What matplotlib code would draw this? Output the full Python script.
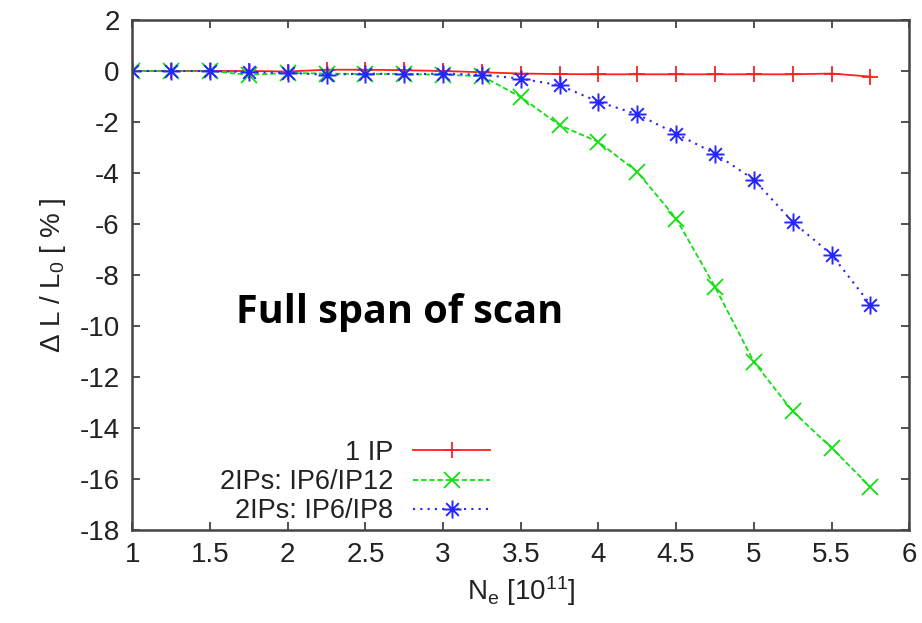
import numpy as np
import matplotlib
matplotlib.use("Agg")
import matplotlib.pyplot as plt
from matplotlib.path import Path

plt.rcParams['font.family'] = ['Liberation Sans', 'DejaVu Sans']
plt.rcParams['mathtext.default'] = 'regular'
plt.rcParams['axes.unicode_minus'] = False

# N_e [10^11]
ne = [1.0, 1.25, 1.5, 1.75, 2.0, 2.25, 2.5, 2.75, 3.0, 3.25,
      3.5, 3.75, 4.0, 4.25, 4.5, 4.75, 5.0, 5.25, 5.5, 5.75]
# Delta L / L0 [%]
one_ip = [0.0, 0.0, 0.0, 0.0, -0.02, 0.05, 0.05, 0.03, 0.0, -0.05,
          -0.1, -0.12, -0.13, -0.13, -0.13, -0.13, -0.13, -0.13, -0.1, -0.22]
ip6_ip12 = [0.0, 0.0, 0.0, -0.15, -0.08, -0.1, -0.12, -0.12, -0.15, -0.2,
            -1.02, -2.13, -2.78, -3.96, -5.79, -8.47, -11.41, -13.35, -14.78, -16.31]
ip6_ip8 = [0.0, 0.0, 0.0, -0.04, -0.07, -0.15, -0.1, -0.13, -0.1, -0.15,
           -0.3, -0.56, -1.21, -1.7, -2.46, -3.24, -4.26, -5.92, -7.2, -9.16]

labels = ["1 IP", "2IPs: IP6/IP12", "2IPs: IP6/IP8"]
xticks = [1, 1.5, 2, 2.5, 3, 3.5, 4, 4.5, 5, 5.5, 6]
yticks = list(range(-18, 3, 2))

# gnuplot style asterisk (+ and x on top of each other)
a = 0.7
star = Path([(-1, 0), (1, 0), (0, -1), (0, 1), (-a, -a), (a, a), (-a, a), (a, -a)],
            [Path.MOVETO, Path.LINETO] * 4)

fig = plt.figure(figsize=(9.22, 6.23), dpi=100)
ax = fig.add_axes([0.1435, 0.1493, 0.8427, 0.8186])

ax.plot(ne, one_ip, color='#ff2020', lw=1.3, marker='+', ms=12, mew=1.3, label=labels[0])
ax.plot(ne, ip6_ip12, color='#10e010', lw=1.3, ls=(0, (3, 1.5)), marker='x', ms=12, mew=1.3,
        label=labels[1])
ax.plot(ne, ip6_ip8, color='#2525ff', lw=1.5, ls=(0, (1, 2.5)), marker=star, ms=13, mew=1.4,
        label=labels[2])

ax.set_xlim(1, 6)
ax.set_ylim(-18, 2)
ax.set_xticks(xticks)
ax.set_xticklabels([f"{v:g}" for v in xticks])
ax.set_yticks(yticks)
ax.tick_params(direction='in', length=6, width=1.2, labelsize=20, pad=9,
               top=True, right=True, colors='#333333', labelcolor='#222222')
for s in ax.spines.values():
    s.set_linewidth(1.8)
    s.set_color('#444444')

ax.set_xlabel("N$_e$ [10$^{11}$]", fontsize=20, color='#222222', labelpad=4)
ax.set_ylabel("Δ L / L$_0$ [ % ]", fontsize=20, color='#222222', labelpad=8)

ax.text(2.72, -9.46, "Full span of scan", fontsize=28.5, fontweight='bold',
        family='Open Sans', ha='center', va='center', color='black')

leg = ax.legend(loc='lower right', bbox_to_anchor=(0.485, -0.026), frameon=False,
                markerfirst=False, fontsize=19.5, handlelength=2.85, labelspacing=0.12,
                handletextpad=0.74, borderpad=0.2)
for t in leg.get_texts():
    t.set_color('#222222')

fig.savefig("out.png", dpi=100)
